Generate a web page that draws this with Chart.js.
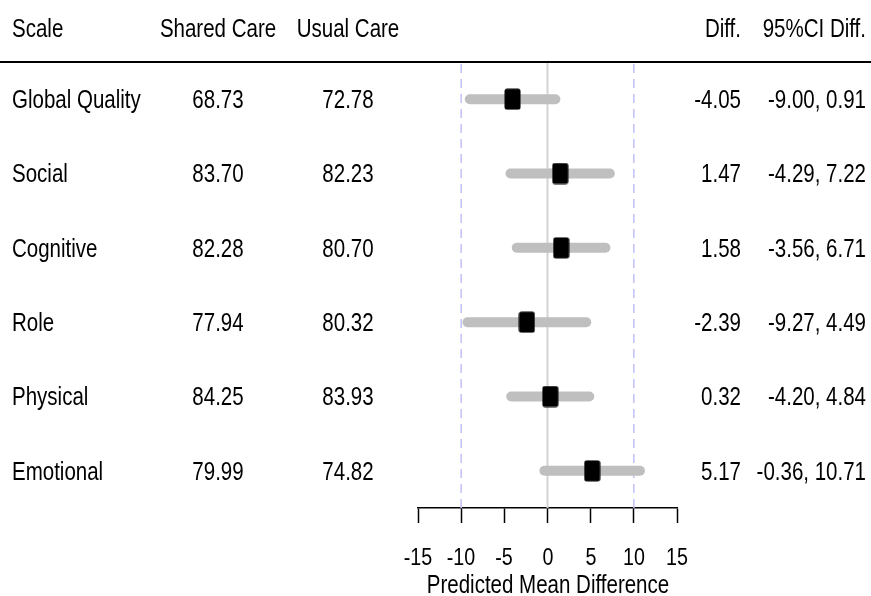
<!DOCTYPE html>
<html><head><meta charset="utf-8">
<script src="https://cdn.jsdelivr.net/npm/chart.js@4/dist/chart.umd.min.js"></script>
<style>
html,body{margin:0;padding:0;background:#fff;}
#wrap{position:relative;width:871px;height:596px;overflow:hidden;background:#fff;}
#c{position:absolute;left:0;top:0;}
.t{position:absolute;font-family:"Liberation Sans",Arial,sans-serif;color:#000;white-space:nowrap;}
#rule{position:absolute;left:0;top:61px;width:871px;height:2px;background:#000;}
</style></head>
<body>
<div id="wrap"><canvas id="c" width="871" height="596"></canvas><div id="rule"></div></div>
<script>
// ---- data ----
const scaleNames = ['Global Quality','Social','Cognitive','Role','Physical','Emotional'];
const sharedCare = [68.73, 83.70, 82.28, 77.94, 84.25, 79.99];
const usualCare  = [72.78, 82.23, 80.70, 80.32, 83.93, 74.82];
const diffs      = [-4.05, 1.47, 1.58, -2.39, 0.32, 5.17];
const ciLow      = [-9.00, -4.29, -3.56, -9.27, -4.20, -0.36];
const ciHigh     = [0.91, 7.22, 6.71, 4.49, 4.84, 10.71];
const headers    = ['Scale','Shared Care','Usual Care','Diff.','95%CI Diff.'];
const xTicks     = [-15,-10,-5,0,5,10,15];
const dashedRefs = [-10, 10];
const zeroRef    = [0];
const xTitle     = 'Predicted Mean Difference';

// ---- marker image (black rounded rectangle) ----
const marker = document.createElement('canvas');
marker.width = 17; marker.height = 22;
(function(){
  const g = marker.getContext('2d');
  g.fillStyle = '#000';
  g.beginPath();
  if (g.roundRect) g.roundRect(0.5,0.5,16,21,2.5); else g.rect(0.5,0.5,16,21);
  g.fill();
})();

function refDataset(v, color, dash, width){
  return {type:'line', xAxisID:'x', yAxisID:'yr', data:[{x:v,y:0},{x:v,y:1}],
    borderColor:color, borderDash:dash, borderWidth:width, pointRadius:0, order:3, clip:false};
}

const datasets = [];
// confidence-interval segments (round-capped thick lines)
scaleNames.forEach((n,i)=>{
  datasets.push({type:'line', xAxisID:'x', yAxisID:'y',
    data:[{x:ciLow[i], y:n},{x:ciHigh[i], y:n}],
    borderColor:'#bfbfbf', borderWidth:10, borderCapStyle:'round', pointRadius:0, order:2, clip:false});
});
// point estimates
datasets.push({type:'scatter', xAxisID:'x', yAxisID:'y',
   data: diffs.map((d,i)=>({x:d, y:scaleNames[i]})),
   pointStyle: marker, pointRadius:10, order:1});
dashedRefs.forEach(v=>datasets.push(refDataset(v,'#c0c0f8',[9,6],1.5)));
zeroRef.forEach(v=>datasets.push(refDataset(v,'#d3d3d3',[],2)));

const chart = new Chart(document.getElementById('c'), {
  type:'line',
  data:{labels: scaleNames, datasets},
  options:{
    responsive:false, animation:false,
    layout:{padding:{left:418, right:194, top:62, bottom:0}},
    plugins:{legend:{display:false}, tooltip:{enabled:false}},
    scales:{
      x:{type:'linear', position:'bottom', min:-15, max:15,
         afterBuildTicks:(s)=>{ s.ticks = xTicks.map(v=>({value:v})); },
         afterFit:(s)=>{ s.height = 88; },
         ticks:{display:false},
         grid:{drawOnChartArea:false, drawTicks:true, tickLength:15, tickColor:'#000', tickWidth:1.5},
         border:{display:true, color:'#000', width:1.5},
         title:{display:false}
      },
      y:{type:'category', display:false, offset:true, grid:{display:false}},
      yr:{type:'linear', display:false, min:0, max:1}
    }
  }
});

// ---- text (condensed), positioned from the chart's scales ----
const wrap = document.getElementById('wrap');
function place(text, x, yc, align, size, sx){
  const d = document.createElement('div');
  d.className = 't';
  d.textContent = text;
  d.style.fontSize = size+'px';
  d.style.lineHeight = size+'px';
  d.style.top = (yc - 0.4885*size) + 'px';
  if (align === 'left'){ d.style.left = x+'px'; d.style.transformOrigin = 'left center'; }
  else if (align === 'center'){ d.style.left = (x-200)+'px'; d.style.width='400px'; d.style.textAlign='center'; d.style.transformOrigin='center center'; }
  else { d.style.left = (x-400)+'px'; d.style.width='400px'; d.style.textAlign='right'; d.style.transformOrigin='right center'; }
  d.style.transform = 'scaleX('+sx+')';
  wrap.appendChild(d);
}
const colX = [12, 218, 348, 741, 866];
const colAlign = ['left','center','center','right','right'];
headers.forEach((h,i)=>place(h, colX[i], 28.5, colAlign[i], 25, 0.82));
const ys = chart.scales.y;
scaleNames.forEach((n,i)=>{
  const yc = ys.getPixelForValue(i);
  const vals = [n, sharedCare[i].toFixed(2), usualCare[i].toFixed(2), diffs[i].toFixed(2),
                ciLow[i].toFixed(2)+', '+ciHigh[i].toFixed(2)];
  vals.forEach((v,k)=>place(v, colX[k], yc, colAlign[k], 25, 0.82));
});
const xs = chart.scales.x;
xTicks.forEach(v=>place(String(v), xs.getPixelForValue(v), 556.5, 'center', 24, 0.82));
place(xTitle, (xs.left+xs.right)/2, 584, 'center', 25, 0.82);
</script>
</body></html>
